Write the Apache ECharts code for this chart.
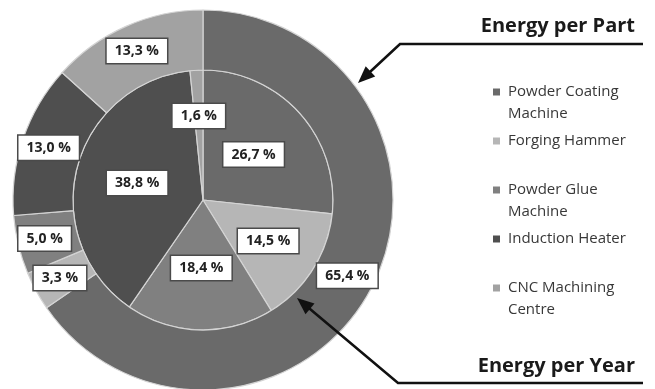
<!DOCTYPE html>
<html>
<head>
<meta charset="utf-8">
<script src="https://cdn.jsdelivr.net/npm/echarts@6/dist/echarts.min.js"></script>
<style>
html,body{margin:0;padding:0;background:#fff;}
#chart{width:655px;height:389px;}
</style>
</head>
<body>
<div id="chart"></div>
<script>
// Data
var categories = ['Powder Coating Machine', 'Forging Hammer', 'Powder Glue Machine', 'Induction Heater', 'CNC Machining Centre'];
var legendLines = [['Powder Coating', 'Machine'], ['Forging Hammer'], ['Powder Glue', 'Machine'], ['Induction Heater'], ['CNC Machining', 'Centre']];
var energyPerPart = [65.4, 3.3, 5.0, 13.0, 13.3];   // outer ring
var energyPerYear = [26.7, 14.5, 18.4, 38.8, 1.6];  // inner pie
var colors = ['#6a6a6a', '#b6b6b6', '#808080', '#4f4f4f', '#a2a2a2'];
var titleOuter = 'Energy per Part';
var titleInner = 'Energy per Year';

var chart = echarts.init(document.getElementById('chart'), null, {renderer: 'canvas'});

var CX = 203, CY = 200;

function fmt(v) { return v.toFixed(1).replace('.', ',') + ' %'; }

var labelStyle = {
  show: true,
  position: 'inside',
  formatter: function (p) { return fmt(p.value); },
  backgroundColor: '#ffffff',
  borderColor: '#4a4a4a',
  borderWidth: 1.5,
  padding: [4, 8, 3, 8],
  fontFamily: 'Open Sans',
  fontWeight: 'bold',
  fontSize: 14,
  lineHeight: 17,
  color: '#222222'
};

function toData(vals) {
  return vals.map(function (v, i) { return {name: categories[i], value: v}; });
}

// push inner labels of narrower slices a little outward, as in the original layout
function innerLabelLayout(p) {
  var v = energyPerYear[p.dataIndex];
  var push = v < 5 ? 16 : (v < 16 ? 9 : 0);
  if (!push) return {};
  var r = p.labelRect;
  var lx = r.x + r.width / 2 - CX, ly = r.y + r.height / 2 - CY;
  var L = Math.sqrt(lx * lx + ly * ly) || 1;
  return {dx: lx / L * push, dy: ly / L * push, hideOverlap: false};
}

function arrowHead(tip, from, len, half) {
  var dx = tip[0] - from[0], dy = tip[1] - from[1];
  var L = Math.sqrt(dx * dx + dy * dy);
  var ux = dx / L, uy = dy / L;
  var bx = tip[0] - ux * len, by = tip[1] - uy * len;
  return [tip, [bx - uy * half, by + ux * half], [bx + uy * half, by - ux * half]];
}
function shortLine(path, tip, back) {
  var from = path[path.length - 1];
  var dx = tip[0] - from[0], dy = tip[1] - from[1];
  var L = Math.sqrt(dx * dx + dy * dy);
  return path.concat([[tip[0] - dx / L * back, tip[1] - dy / L * back]]);
}

var topPath = [[643, 44], [400, 44]];
var topTip = [358, 83];
var botPath = [[643, 383], [398, 383]];
var botTip = [297, 298];

var option = {
  animation: false,
  color: colors,
  legend: {
    orient: 'vertical',
    left: 493,
    top: 59,
    padding: 0,
    itemWidth: 7,
    itemHeight: 7,
    itemGap: -17,
    icon: 'rect',
    itemStyle: {borderWidth: 0},
    selectedMode: false,
    data: categories,
    formatter: function (name) {
      var lines = legendLines[categories.indexOf(name)];
      return '\n' + lines[0] + '\n' + (lines[1] || ' ');
    },
    textStyle: {
      fontFamily: 'Open Sans',
      fontSize: 15,
      lineHeight: 22,
      color: '#383838',
      padding: [0, 0, 0, 3]
    }
  },
  series: [
    {
      name: titleInner,
      type: 'pie',
      center: [CX, CY],
      radius: [0, 130],
      startAngle: 90,
      clockwise: true,
      silent: true,
      avoidLabelOverlap: false,
      minShowLabelAngle: 0,
      labelLayout: innerLabelLayout,
      data: toData(energyPerYear),
      itemStyle: {borderColor: '#d4d4d4', borderWidth: 1.2},
      label: labelStyle,
      labelLine: {show: false},
      emphasis: {disabled: true}
    },
    {
      name: titleOuter,
      type: 'pie',
      center: [CX, CY],
      radius: [130, 190],
      startAngle: 90,
      clockwise: true,
      silent: true,
      avoidLabelOverlap: false,
      minShowLabelAngle: 0,
      labelLayout: {hideOverlap: false},
      data: toData(energyPerPart),
      itemStyle: {borderColor: '#d4d4d4', borderWidth: 1.2},
      label: labelStyle,
      labelLine: {show: false},
      emphasis: {disabled: true}
    }
  ],
  graphic: [
    {type: 'text', z: 100, style: {x: 635, y: 26.5, align: 'right', verticalAlign: 'middle', text: titleOuter, font: 'bold 20px "Open Sans"', fill: '#1a1a1a'}},
    {type: 'text', z: 100, style: {x: 635, y: 366, align: 'right', verticalAlign: 'middle', text: titleInner, font: 'bold 20px "Open Sans"', fill: '#1a1a1a'}},
    {type: 'polyline', z: 100, shape: {points: shortLine(topPath, topTip, 10)}, style: {stroke: '#111', lineWidth: 2.6, fill: null}},
    {type: 'polygon', z: 100, shape: {points: arrowHead(topTip, topPath[1], 17, 7)}, style: {fill: '#111'}},
    {type: 'polyline', z: 100, shape: {points: shortLine(botPath, botTip, 10)}, style: {stroke: '#111', lineWidth: 2.6, fill: null}},
    {type: 'polygon', z: 100, shape: {points: arrowHead(botTip, botPath[1], 17, 7)}, style: {fill: '#111'}}
  ]
};
chart.setOption(option);
</script>
</body>
</html>
